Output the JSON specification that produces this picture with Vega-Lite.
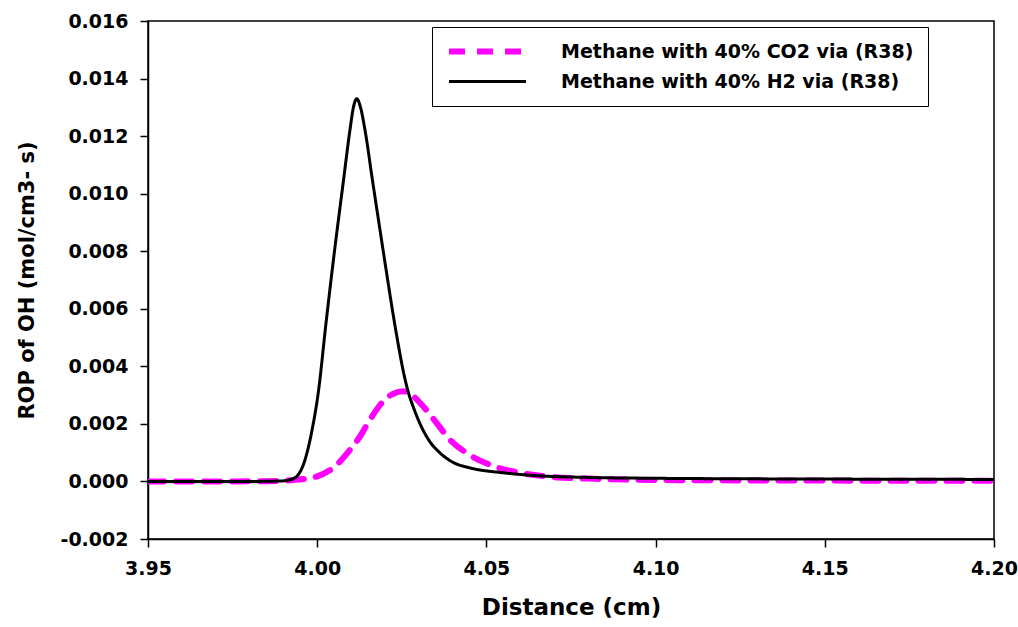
{
  "$schema": "https://vega.github.io/schema/vega-lite/v6.json",
  "width": 846,
  "height": 518,
  "autosize": "none",
  "padding": {"left": 148, "top": 21, "right": 24, "bottom": 88},
  "background": "white",
  "config": {
    "view": {"stroke": "black", "strokeWidth": 1.5},
    "font": "DejaVu Sans",
    "axis": {
      "grid": false,
      "domainColor": "black",
      "domainWidth": 1.5,
      "tickColor": "black",
      "tickWidth": 1.5,
      "tickSize": 8,
      "labelFont": "DejaVu Sans",
      "labelFontWeight": "bold",
      "labelFontSize": 19,
      "labelColor": "black",
      "titleFont": "DejaVu Sans",
      "titleFontWeight": "bold",
      "titleFontSize": 23,
      "titleColor": "black"
    },
    "legend": {
      "title": null, "orient": "none", "legendX": 284, "legendY": 6,
      "strokeColor": "black", "fillColor": "white", "padding": 14,
      "symbolType": "stroke", "symbolSize": 5929, "labelOffset": 32,
      "labelFont": "DejaVu Sans", "labelFontWeight": "bold", "labelFontSize": 19, "labelColor": "black",
      "rowPadding": 9, "labelLimit": 600, "clipHeight": 21
    }
  },
  "data": {
    "values": [
      {"x": 3.95, "y": 0, "series": "Methane with 40% CO2 via (R38)"},
      {"x": 3.97, "y": 0, "series": "Methane with 40% CO2 via (R38)"},
      {"x": 3.985, "y": 0.00001, "series": "Methane with 40% CO2 via (R38)"},
      {"x": 3.993, "y": 0.00005, "series": "Methane with 40% CO2 via (R38)"},
      {"x": 3.9998, "y": 0.00017, "series": "Methane with 40% CO2 via (R38)"},
      {"x": 4.0058, "y": 0.00058, "series": "Methane with 40% CO2 via (R38)"},
      {"x": 4.0097, "y": 0.0011, "series": "Methane with 40% CO2 via (R38)"},
      {"x": 4.0127, "y": 0.00157, "series": "Methane with 40% CO2 via (R38)"},
      {"x": 4.0156, "y": 0.00215, "series": "Methane with 40% CO2 via (R38)"},
      {"x": 4.0195, "y": 0.00278, "series": "Methane with 40% CO2 via (R38)"},
      {"x": 4.0225, "y": 0.00305, "series": "Methane with 40% CO2 via (R38)"},
      {"x": 4.0254, "y": 0.00313, "series": "Methane with 40% CO2 via (R38)"},
      {"x": 4.0285, "y": 0.00295, "series": "Methane with 40% CO2 via (R38)"},
      {"x": 4.0313, "y": 0.00261, "series": "Methane with 40% CO2 via (R38)"},
      {"x": 4.0353, "y": 0.00203, "series": "Methane with 40% CO2 via (R38)"},
      {"x": 4.0392, "y": 0.00145, "series": "Methane with 40% CO2 via (R38)"},
      {"x": 4.0441, "y": 0.00099, "series": "Methane with 40% CO2 via (R38)"},
      {"x": 4.051, "y": 0.00058, "series": "Methane with 40% CO2 via (R38)"},
      {"x": 4.06, "y": 0.0003, "series": "Methane with 40% CO2 via (R38)"},
      {"x": 4.07, "y": 0.00015, "series": "Methane with 40% CO2 via (R38)"},
      {"x": 4.08, "y": 0.0001, "series": "Methane with 40% CO2 via (R38)"},
      {"x": 4.1, "y": 0.00005, "series": "Methane with 40% CO2 via (R38)"},
      {"x": 4.15, "y": 0.00003, "series": "Methane with 40% CO2 via (R38)"},
      {"x": 4.2, "y": 0.00002, "series": "Methane with 40% CO2 via (R38)"},

      {"x": 3.95, "y": 0, "series": "Methane with 40% H2 via (R38)"},
      {"x": 3.98, "y": 0, "series": "Methane with 40% H2 via (R38)"},
      {"x": 3.99, "y": 0.00002, "series": "Methane with 40% H2 via (R38)"},
      {"x": 3.993, "y": 0.0001, "series": "Methane with 40% H2 via (R38)"},
      {"x": 3.9964, "y": 0.00075, "series": "Methane with 40% H2 via (R38)"},
      {"x": 3.9985, "y": 0.0018, "series": "Methane with 40% H2 via (R38)"},
      {"x": 4.0003, "y": 0.00307, "series": "Methane with 40% H2 via (R38)"},
      {"x": 4.0026, "y": 0.0055, "series": "Methane with 40% H2 via (R38)"},
      {"x": 4.005, "y": 0.0079, "series": "Methane with 40% H2 via (R38)"},
      {"x": 4.0077, "y": 0.0104, "series": "Methane with 40% H2 via (R38)"},
      {"x": 4.0097, "y": 0.01223, "series": "Methane with 40% H2 via (R38)"},
      {"x": 4.0107, "y": 0.013, "series": "Methane with 40% H2 via (R38)"},
      {"x": 4.0117, "y": 0.0133, "series": "Methane with 40% H2 via (R38)"},
      {"x": 4.0128, "y": 0.013, "series": "Methane with 40% H2 via (R38)"},
      {"x": 4.0141, "y": 0.01223, "series": "Methane with 40% H2 via (R38)"},
      {"x": 4.0163, "y": 0.01049, "series": "Methane with 40% H2 via (R38)"},
      {"x": 4.019, "y": 0.0084, "series": "Methane with 40% H2 via (R38)"},
      {"x": 4.0205, "y": 0.00725, "series": "Methane with 40% H2 via (R38)"},
      {"x": 4.022, "y": 0.00612, "series": "Methane with 40% H2 via (R38)"},
      {"x": 4.0237, "y": 0.00493, "series": "Methane with 40% H2 via (R38)"},
      {"x": 4.0254, "y": 0.00385, "series": "Methane with 40% H2 via (R38)"},
      {"x": 4.0268, "y": 0.00315, "series": "Methane with 40% H2 via (R38)"},
      {"x": 4.0286, "y": 0.00252, "series": "Methane with 40% H2 via (R38)"},
      {"x": 4.0304, "y": 0.00200, "series": "Methane with 40% H2 via (R38)"},
      {"x": 4.0329, "y": 0.00145, "series": "Methane with 40% H2 via (R38)"},
      {"x": 4.0363, "y": 0.00099, "series": "Methane with 40% H2 via (R38)"},
      {"x": 4.0402, "y": 0.00066, "series": "Methane with 40% H2 via (R38)"},
      {"x": 4.0452, "y": 0.00047, "series": "Methane with 40% H2 via (R38)"},
      {"x": 4.055, "y": 0.0003, "series": "Methane with 40% H2 via (R38)"},
      {"x": 4.065, "y": 0.0002, "series": "Methane with 40% H2 via (R38)"},
      {"x": 4.08, "y": 0.00014, "series": "Methane with 40% H2 via (R38)"},
      {"x": 4.1, "y": 0.00011, "series": "Methane with 40% H2 via (R38)"},
      {"x": 4.13, "y": 0.00009, "series": "Methane with 40% H2 via (R38)"},
      {"x": 4.16, "y": 0.00008, "series": "Methane with 40% H2 via (R38)"},
      {"x": 4.2, "y": 0.00007, "series": "Methane with 40% H2 via (R38)"}
    ]
  },
  "mark": {"type": "line", "interpolate": "monotone", "strokeCap": "round", "clip": true},
  "encoding": {
    "x": {
      "field": "x", "type": "quantitative",
      "scale": {"domain": [3.95, 4.2], "nice": false, "zero": false},
      "axis": {"title": "Distance (cm)", "values": [3.95, 4.0, 4.05, 4.1, 4.15, 4.2], "format": ".2f", "labelPadding": 12, "titlePadding": 18, "labelFlush": false}
    },
    "y": {
      "field": "y", "type": "quantitative",
      "scale": {"domain": [-0.002, 0.016], "nice": false, "zero": false},
      "axis": {"title": "ROP of OH (mol/cm3- s)", "titleFontSize": 21, "values": [-0.002, 0, 0.002, 0.004, 0.006, 0.008, 0.01, 0.012, 0.014, 0.016], "format": ".3f", "labelExpr": "replace(datum.label, '\u2212', '-')", "labelPadding": 12, "titlePadding": 23, "labelFlush": false}
    },
    "color": {
      "field": "series", "type": "nominal",
      "scale": {"domain": ["Methane with 40% CO2 via (R38)", "Methane with 40% H2 via (R38)"], "range": ["#FF00FF", "#000000"]}
    },
    "strokeDash": {
      "field": "series", "type": "nominal",
      "scale": {"domain": ["Methane with 40% CO2 via (R38)", "Methane with 40% H2 via (R38)"], "range": [[16, 12], [1, 0]]}
    },
    "strokeWidth": {
      "field": "series", "type": "nominal",
      "scale": {"domain": ["Methane with 40% CO2 via (R38)", "Methane with 40% H2 via (R38)"], "range": [6, 3]}
    }
  }
}
